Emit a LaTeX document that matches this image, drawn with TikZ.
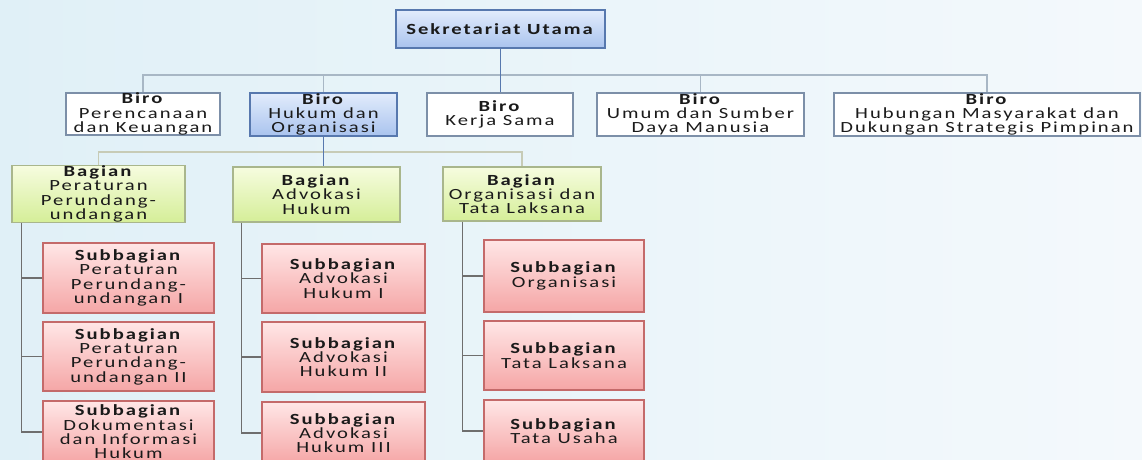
\documentclass[tikz,border=0pt]{standalone}
\usepackage{fontspec}
\setmainfont{Carlito}[FakeStretch=1.33,LetterSpace=13]
\usetikzlibrary{calc}
\definecolor{txt}{HTML}{1A1A1A}
\definecolor{bluT}{HTML}{E2ECFC}
\definecolor{bluB}{HTML}{A9C3EE}
\definecolor{bluD}{HTML}{5778AE}
\definecolor{wD}{HTML}{7C8FA8}
\definecolor{gT}{HTML}{F6FCDF}
\definecolor{gB}{HTML}{D5EE98}
\definecolor{gD}{HTML}{A9B68C}
\definecolor{rT}{HTML}{FFE6E6}
\definecolor{rB}{HTML}{F5A6A6}
\definecolor{rD}{HTML}{C46A6A}
\definecolor{lnA}{HTML}{A8B7C5}
\definecolor{lnB}{HTML}{C7CBB6}
\definecolor{lnC}{HTML}{6E6E6E}
\definecolor{bgL}{HTML}{E0F0F7}
\definecolor{bgR}{HTML}{F4F9FC}
\newcommand\fsz{\fontsize{15.5}{14.3}\selectfont}
\tikzset{
  box/.style={draw, rectangle, align=center, inner sep=0pt, text=txt, font=\fsz, line width=1.2pt},
  sz/.style 2 args={minimum width=#1, minimum height=#2},
  blubox/.style={box, draw=bluD, top color=bluT, bottom color=bluB},
  whtbox/.style={box, draw=wD, fill=white},
  grnbox/.style={box, draw=gD, top color=gT, bottom color=gB},
  redbox/.style={box, draw=rD, top color=rT, bottom color=rB},
  lineA/.style={draw=lnA, line width=1.8pt},
  lineBlue/.style={draw=bluD, line width=1.5pt},
  lineB/.style={draw=lnB, line width=1.8pt},
  lineC/.style={draw=lnC, line width=1.3pt},
}
\begin{document}
\begin{tikzpicture}[x=1pt,y=-1pt]
\useasboundingbox (0,0) rectangle (1142,459);
\clip (0,0) rectangle (1142,459);
\shade[left color=bgL, right color=bgR] (0,0) rectangle (1142,459);

% top
\node[blubox, sz={209}{38}] (sek) at (500.5,29) {\textbf{Sekretariat Utama}};
\node[whtbox, sz={154}{42}] (b1) at (143,114) {\textbf{Biro}\\Perencanaan\\dan Keuangan};
\node[blubox, sz={147}{43}] (b2) at (323.5,114.5) {\textbf{Biro}\\Hukum dan\\Organisasi};
\node[whtbox, sz={146}{43}] (b3) at (500,114.5) {\textbf{Biro}\\Kerja Sama};
\node[whtbox, sz={207}{43}] (b4) at (700.5,114.5) {\textbf{Biro}\\Umum dan Sumber\\Daya Manusia};
\node[whtbox, sz={306}{43}] (b5) at (987,114.5) {\textbf{Biro}\\Hubungan Masyarakat dan\\Dukungan Strategis Pimpinan};

\coordinate (top) at (0,75);
\draw[lineA] (b1.north) -- (b1.north |- top) -- (b5.north |- top) -- (b5.north);
\draw[lineA] (b2.north) -- (b2.north |- top);
\draw[lineA] (b4.north) -- (b4.north |- top);
\draw[lineBlue] (sek.south) -- (sek.south |- b3.north);

% bagian
\node[grnbox, sz={173}{56}] (g1) at (98.5,194) {\textbf{Bagian}\\Peraturan\\Perundang-\\undangan};
\node[grnbox, sz={167}{55}] (g2) at (316.5,194.5) {\textbf{Bagian}\\Advokasi\\Hukum};
\node[grnbox, sz={158}{54}] (g3) at (522,194) {\textbf{Bagian}\\Organisasi dan\\Tata Laksana};

\coordinate (mid) at (0,152);
\draw[lineB] (g1.north) -- (g1.north |- mid) -- (g3.north |- mid) -- (g3.north);
\draw[lineBlue] (b2.south) -- (b2.south |- g2.north);

% subbagian col 1
\node[redbox, sz={171}{70}] (s11) at (128.5,278) {\textbf{Subbagian}\\Peraturan\\Perundang-\\undangan I};
\node[redbox, sz={171}{69}] (s12) at (128.5,356.5) {\textbf{Subbagian}\\Peraturan\\Perundang-\\undangan II};
\node[redbox, sz={171}{62}] (s13) at (128.5,432) {\textbf{Subbagian}\\Dokumentasi\\dan Informasi\\Hukum};
% col 2
\node[redbox, sz={163}{69}] (s21) at (343.5,278.5) {\textbf{Subbagian}\\Advokasi\\Hukum I};
\node[redbox, sz={163}{70}] (s22) at (343.5,357) {\textbf{Subbagian}\\Advokasi\\Hukum II};
\node[redbox, sz={163}{62}] (s23) at (343.5,433) {\textbf{Subbagian}\\Advokasi\\Hukum III};
% col 3
\node[redbox, sz={160}{72}] (s31) at (564,276) {\textbf{Subbagian}\\Organisasi};
\node[redbox, sz={160}{69}] (s32) at (564,355.5) {\textbf{Subbagian}\\Tata Laksana};
\node[redbox, sz={160}{62}] (s33) at (564,431) {\textbf{Subbagian}\\Tata Usaha};

% spines
\coordinate (sp1) at ([xshift=10pt]g1.south west);
\coordinate (sp2) at ([xshift=9pt]g2.south west);
\coordinate (sp3) at ([xshift=20pt]g3.south west);
\draw[lineC] (sp1) |- (s13.west);
\draw[lineC] (s11.west) -- (s11.west -| sp1);
\draw[lineC] (s12.west) -- (s12.west -| sp1);
\draw[lineC] (sp2) |- (s23.west);
\draw[lineC] (s21.west) -- (s21.west -| sp2);
\draw[lineC] (s22.west) -- (s22.west -| sp2);
\draw[lineC] (sp3) |- (s33.west);
\draw[lineC] (s31.west) -- (s31.west -| sp3);
\draw[lineC] (s32.west) -- (s32.west -| sp3);
\end{tikzpicture}
\end{document}
